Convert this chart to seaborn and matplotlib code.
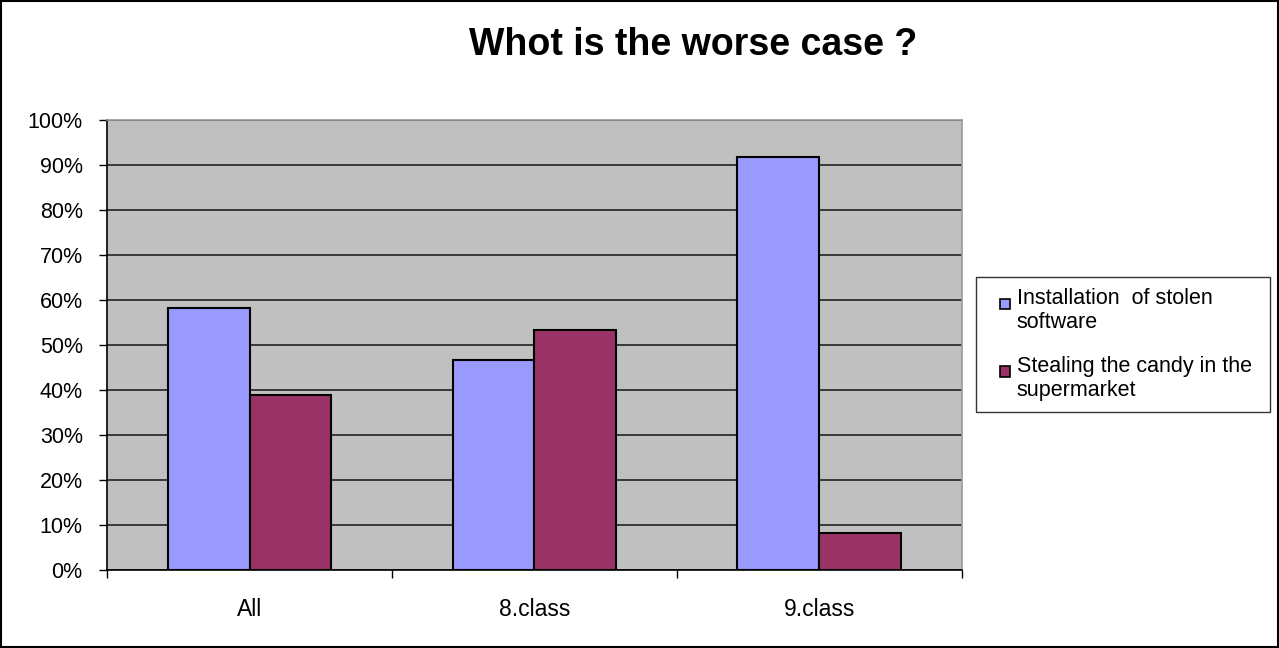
import pandas as pd
import matplotlib.pyplot as plt
import seaborn as sns
from matplotlib.ticker import PercentFormatter, FixedLocator
from matplotlib.patches import Rectangle
from matplotlib.legend_handler import HandlerPatch

# data
groups = ['All', '8.class', '9.class']
series = ['Installation  of stolen\nsoftware', 'Stealing the candy in the\nsupermarket']
software = [0.583, 0.467, 0.917]
candy = [0.389, 0.533, 0.083]
colors = ['#9999FF', '#993366']

df = pd.DataFrame({
    'group': groups * 2,
    'series': [series[0]] * 3 + [series[1]] * 3,
    'value': software + candy,
})


# small square marker next to the first line of a two-line label
class TopSquare(HandlerPatch):
    def create_artists(self, legend, orig_handle, xdescent, ydescent,
                       width, height, fontsize, trans):
        s = 0.5 * fontsize
        p = Rectangle((-xdescent + width - s, -ydescent + height - s - 0.2 * fontsize), s, s,
                      facecolor=orig_handle.get_facecolor(), edgecolor='black',
                      linewidth=1.2, transform=trans)
        return [p]


sns.set_theme(style="white")
plt.rcParams['font.family'] = ['Liberation Sans', 'DejaVu Sans']
plt.rcParams['text.color'] = 'black'
plt.rcParams['xtick.color'] = 'black'
plt.rcParams['ytick.color'] = 'black'

fig = plt.figure(figsize=(12.79, 6.48), dpi=100)
ax = fig.add_axes([0.0837, 0.1204, 0.752 - 0.0837, 0.8148 - 0.1204])
ax.set_facecolor('#C0C0C0')

sns.barplot(data=df, x='group', y='value', hue='series', palette=colors,
            saturation=1, width=0.575, edgecolor='black', linewidth=1.5, ax=ax)

ax.set_ylim(0, 1)
ax.set_xlim(-0.5, 2.5)
ax.yaxis.set_major_locator(FixedLocator([i / 10 for i in range(11)]))
ax.yaxis.set_major_formatter(PercentFormatter(1.0, decimals=0))
ax.set_axisbelow(True)
ax.yaxis.grid(True, color='#222222', linewidth=1.2)
ax.set_xlabel('')
ax.set_ylabel('')

# ticks at category boundaries
ax.xaxis.set_minor_locator(FixedLocator([-0.5, 0.5, 1.5, 2.5]))
ax.tick_params(axis='x', which='major', length=0, labelsize=16.5, pad=20)
ax.tick_params(axis='x', which='minor', length=6, width=1, color='black', bottom=True)
ax.tick_params(axis='y', length=6, width=1, color='black', left=True, labelsize=15.5, pad=11.5)

for side in ['left', 'bottom']:
    ax.spines[side].set_color('black')
    ax.spines[side].set_linewidth(1.2)
for side in ['top', 'right']:
    ax.spines[side].set_color('#999999')
    ax.spines[side].set_linewidth(1.2)

handles, labels = ax.get_legend_handles_labels()
leg = ax.legend(handles, labels, loc='upper left', mode='expand',
                bbox_to_anchor=(0.7631, 0.25, 0.2299, 0.3225),
                bbox_transform=fig.transFigure, fontsize=15.5, frameon=True,
                fancybox=False, edgecolor='black', handlelength=1.1, handleheight=2.1,
                handletextpad=0.3, labelspacing=1.05, borderpad=0.5, borderaxespad=0,
                handler_map={h: TopSquare() for h in handles})
leg.get_frame().set_linewidth(1)
for t in leg.get_texts():
    t.set_linespacing(1.2)

fig.text(0.542, 0.93, 'Whot is the worse case ?', ha='center', va='center',
         fontsize=27, fontweight='bold')

fig.patches.append(Rectangle((0.001, 0.001), 0.998, 0.998, transform=fig.transFigure,
                             fill=False, edgecolor='black', linewidth=1.5))

fig.savefig('out.png', dpi=100)
